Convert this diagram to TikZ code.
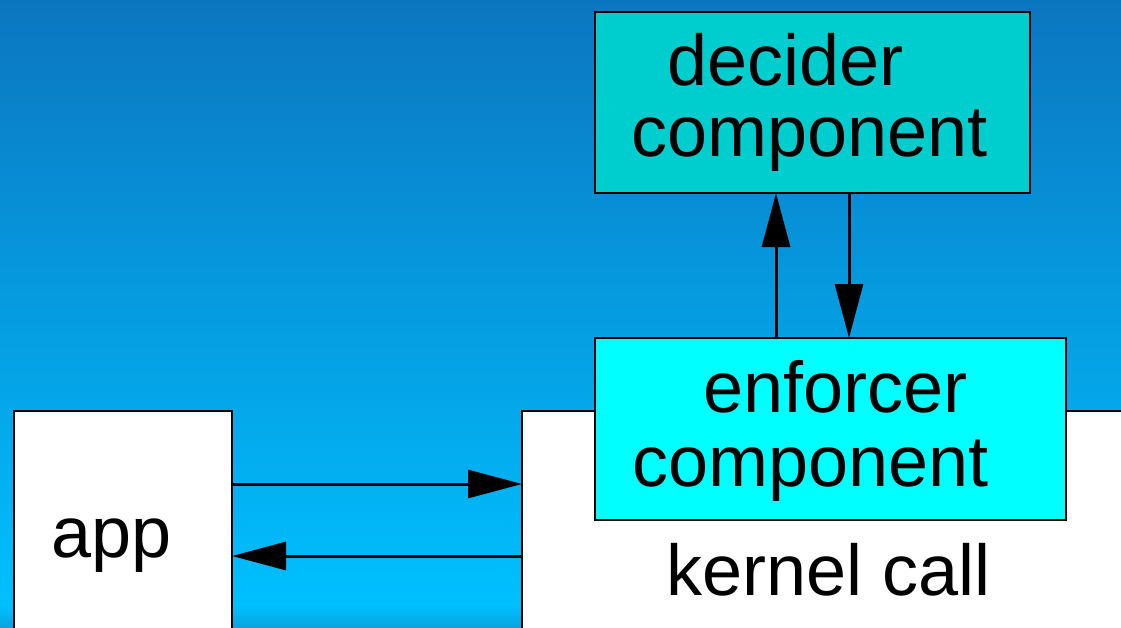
\documentclass[tikz,border=0pt]{standalone}
\usepackage{fontspec}
\setmainfont{Liberation Sans}
\usetikzlibrary{arrows.meta}
\definecolor{bgtop}{RGB}{11,118,192}
\definecolor{bgbot}{RGB}{0,192,255}
\definecolor{bgedge}{RGB}{5,165,225}
\definecolor{decfill}{RGB}{0,206,206}
\definecolor{enffill}{RGB}{0,255,255}
\begin{document}
\begin{tikzpicture}[x=1pt,y=-1pt,
  box/.style={draw=black,line width=2.5pt,inner sep=0pt,outer sep=0pt,rectangle},
  lbl/.style={anchor=base west,inner sep=0pt,font=\fontsize{72}{72}\selectfont},
  conn/.style={line width=3pt,-{Triangle[length=54pt,width=28pt]}}]
\useasboundingbox (0,0) rectangle (1121,627);
\shade[top color=bgtop,bottom color=bgbot] (0,0) rectangle (1121,606);
\shade[top color=bgbot,bottom color=bgedge] (0,605) rectangle (1121,627);
% boxes
\node[box,fill=white,minimum width=218pt,minimum height=230pt] (app) at (123,526) {};
\node[box,fill=white,minimum width=618pt,minimum height=230pt] (kernel) at (831,526) {};
\node[box,fill=enffill,minimum width=471pt,minimum height=182pt] (enforcer) at (830.5,429) {};
\node[box,fill=decfill,minimum width=435pt,minimum height=181pt] (decider) at (812.5,102.5) {};
% labels
\node[lbl] (tdec1) at (667,85) {decider};
\node[lbl] (tdec2) at (631,156) {component};
\node[lbl] (tenf1) at (703,412) {enforcer};
\node[lbl] (tenf2) at (632,486) {component};
\node[lbl] (tker) at (666,595) {kernel call};
\node[lbl] (tapp) at (51,557) {app};
% connector guides
\coordinate (r1) at (0,484);
\coordinate (r2) at (0,556);
\coordinate (c1) at (776,0);
\coordinate (c2) at (849,0);
% connectors
\draw[conn] (app.east |- r1) -- (kernel.west |- r1);
\draw[conn] (kernel.west |- r2) -- (app.east |- r2);
\draw[conn] (enforcer.north -| c1) -- (decider.south -| c1);
\draw[conn] (decider.south -| c2) -- (enforcer.north -| c2);
\end{tikzpicture}
\end{document}
